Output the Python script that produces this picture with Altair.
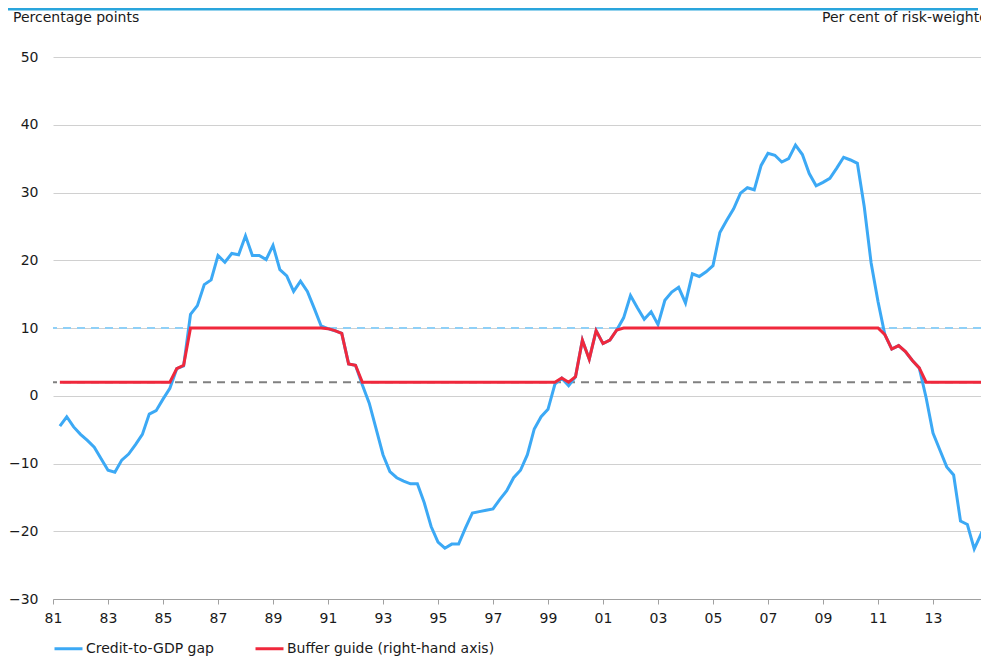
import altair as alt
import pandas as pd

# Credit-to-GDP gap, quarterly, percentage points (1981 Q1 .. 2014 Q4)
gap = [-4.5, -3.1, -4.6, -5.7, -6.6, -7.6, -9.3, -11.0, -11.3, -9.5,
       -8.6, -7.2, -5.7, -2.7, -2.2, -0.5, 1.1, 4.0, 4.4, 12.0,
       13.3, 16.4, 17.1, 20.7, 19.7, 21.0, 20.8, 23.6, 20.7, 20.7,
       20.1, 22.2, 18.6, 17.7, 15.4, 16.9, 15.4, 12.9, 10.3, 9.9,
       9.6, 9.2, 4.7, 4.5, 1.6, -1.1, -4.9, -8.7, -11.2, -12.1,
       -12.6, -13.0, -13.0, -15.8, -19.3, -21.6, -22.5, -21.9, -21.9, -19.5,
       -17.3, -17.1, -16.9, -16.7, -15.3, -14.0, -12.1, -11.0, -8.7, -4.9,
       -3.1, -2.0, 1.7, 2.6, 1.5, 2.8, 8.2, 5.4, 9.6, 7.7,
       8.2, 9.7, 11.5, 14.8, 13.0, 11.3, 12.4, 10.5, 14.1, 15.3,
       16.0, 13.7, 18.0, 17.6, 18.3, 19.2, 24.1, 25.9, 27.6, 29.9,
       30.7, 30.4, 34.0, 35.8, 35.5, 34.5, 35.0, 37.0, 35.6, 32.8,
       31.0, 31.5, 32.1, 33.6, 35.2, 34.8, 34.3, 27.9, 19.6, 13.9,
       9.0, 6.9, 7.4, 6.5, 5.2, 4.1, -0.3, -5.5, -8.0, -10.5,
       -11.7, -18.5, -19.0, -22.6, -20.4, -21.7]

# Buffer guide, per cent of risk-weighted assets (right-hand axis)
buffer = [0, 0, 0, 0, 0, 0, 0, 0, 0, 0,
          0, 0, 0, 0, 0, 0, 0, 0.63, 0.78, 2.5,
          2.5, 2.5, 2.5, 2.5, 2.5, 2.5, 2.5, 2.5, 2.5, 2.5,
          2.5, 2.5, 2.5, 2.5, 2.5, 2.5, 2.5, 2.5, 2.5, 2.47,
          2.38, 2.25, 0.84, 0.78, 0, 0, 0, 0, 0, 0,
          0, 0, 0, 0, 0, 0, 0, 0, 0, 0,
          0, 0, 0, 0, 0, 0, 0, 0, 0, 0,
          0, 0, 0, 0.19, 0, 0.25, 1.94, 1.06, 2.38, 1.78,
          1.94, 2.41, 2.5, 2.5, 2.5, 2.5, 2.5, 2.5, 2.5, 2.5,
          2.5, 2.5, 2.5, 2.5, 2.5, 2.5, 2.5, 2.5, 2.5, 2.5,
          2.5, 2.5, 2.5, 2.5, 2.5, 2.5, 2.5, 2.5, 2.5, 2.5,
          2.5, 2.5, 2.5, 2.5, 2.5, 2.5, 2.5, 2.5, 2.5, 2.5,
          2.19, 1.53, 1.69, 1.41, 1.00, 0.66, 0, 0, 0, 0,
          0, 0, 0, 0, 0, 0]

dates = [1981.25 + 0.25 * i for i in range(len(gap))]

series_names = ["Credit-to-GDP gap", "Buffer guide (right-hand axis)"]
series_colors = ["#3CA9F5", "#F0283C"]

upper_level = [10]
lower_level = [2]
x_ticks = list(range(1981, 2016, 2))
y_ticks = list(range(-30, 51, 10))

FONT = "DejaVu Sans"
TXT = "#1a1a1a"
FS = 14

PLOT_W, PLOT_H = 928, 542
x_end = 1981 + PLOT_W / 27.5

df_gap = pd.DataFrame({"date": dates, "value": gap, "series": series_names[0]})
df_buf = pd.DataFrame({"date": dates, "value": buffer, "series": series_names[1]})

x_scale = alt.Scale(domain=[1981, x_end], nice=False, zero=False)
x_axis = alt.Axis(values=x_ticks, labelExpr="substring(toString(datum.value), 2, 4)",
                  grid=False, tickSize=5, tickColor="#a0a0a0", domainColor="#a0a0a0",
                  labelFlush=False, labelOverlap=False, labelPadding=7,
                  labelFontSize=FS, labelColor=TXT, labelFont=FONT)
y_scale = alt.Scale(domain=[-30, 50], nice=False, zero=False)
y_axis = alt.Axis(values=y_ticks, grid=True, gridColor="#d0d0d0", domain=False, ticks=False,
                  labelPadding=15, labelFontSize=FS, labelColor=TXT, labelFont=FONT)

color = alt.Color("series:N", scale=alt.Scale(domain=series_names, range=series_colors),
                  legend=alt.Legend(orient="none", legendX=0, legendY=576, direction="horizontal",
                                    title=None, symbolType="stroke", symbolStrokeWidth=3,
                                    symbolSize=784, labelFont=FONT, labelFontSize=FS,
                                    labelColor=TXT, columnPadding=35, labelOffset=2,
                                    labelLimit=400))

upper_rule = alt.Chart(pd.DataFrame({"level": upper_level})).mark_rule(
    color="#8FD0F7", strokeWidth=2, strokeDash=[8, 6]
).encode(y=alt.Y("level:Q", scale=y_scale, axis=y_axis, title=None))

lower_rule = alt.Chart(pd.DataFrame({"level": lower_level})).mark_rule(
    color="#808080", strokeWidth=2, strokeDash=[8, 6]
).encode(y=alt.Y("level:Q", scale=y_scale, axis=y_axis, title=None))

gap_line = alt.Chart(df_gap).mark_line(strokeWidth=3).encode(
    x=alt.X("date:Q", scale=x_scale, axis=x_axis, title=None),
    y=alt.Y("value:Q", scale=y_scale, axis=y_axis, title=None),
    color=color,
)

left = alt.layer(upper_rule, lower_rule, gap_line)

buf_line = alt.Chart(df_buf).mark_line(strokeWidth=3).encode(
    x=alt.X("date:Q", scale=x_scale, axis=x_axis, title=None),
    y=alt.Y("value:Q", scale=alt.Scale(domain=[-10, 15], nice=False, zero=False), axis=None),
    color=color,
)

left_title = alt.Chart(pd.DataFrame({"t": ["Percentage points"]})).mark_text(
    align="left", baseline="alphabetic", font=FONT, fontSize=FS, color=TXT
).encode(x=alt.value(-40), y=alt.value(-35), text="t:N")

right_title = alt.Chart(pd.DataFrame({"t": ["Per cent of risk-weighted assets"]})).mark_text(
    align="left", baseline="alphabetic", font=FONT, fontSize=FS, color=TXT
).encode(x=alt.value(769), y=alt.value(-35), text="t:N")

top_bar = alt.Chart(pd.DataFrame({"a": [0]})).mark_rule(color="#2AA5DC", strokeWidth=3).encode(
    x=alt.value(-45), x2=alt.value(925), y=alt.value(-48)
)

chart = alt.layer(left, buf_line, left_title, right_title, top_bar).resolve_scale(
    y="independent"
).properties(
    width=PLOT_W, height=PLOT_H,
    autosize=alt.AutoSizeParams(type="none"),
    padding={"left": 45, "top": 49, "right": 0, "bottom": 58},
    background="white",
).configure_view(stroke=None)

chart.save("out.html", embed_options={"renderer": "svg", "actions": False})
